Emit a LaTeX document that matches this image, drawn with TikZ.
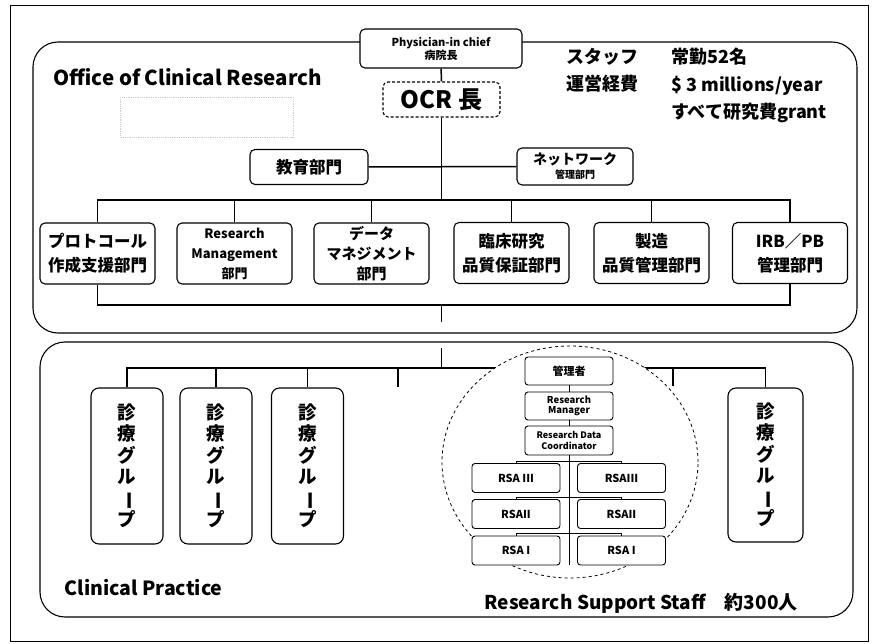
\documentclass[tikz,border=0pt]{standalone}
\usepackage{fontspec}
\setmainfont{Noto Sans CJK JP}
\usetikzlibrary{positioning}
\tikzset{
  unit/.style={rectangle, rounded corners=5pt, draw=black, line width=1.1pt, fill=white, align=center,
               inner sep=1pt, font=\bfseries\fontsize{16.5}{24}\selectfont},
  dept/.style={unit, minimum width=115pt, minimum height=61pt},
  grp/.style={unit, rounded corners=8pt, minimum width=72pt, minimum height=156pt,
              font=\bfseries\fontsize{18.5}{21.5}\selectfont},
  rsa/.style={unit, rounded corners=3pt, line width=0.9pt, minimum width=88pt, minimum height=28pt,
              font=\bfseries\fontsize{11}{12}\selectfont},
  conn/.style={line width=1.5pt},
  thin conn/.style={line width=1pt},
  frame/.style={rounded corners=25pt, line width=1.1pt},
}
\newcommand{\vbar}{\rotatebox[origin=c]{-90}{ー}}
\newcommand{\shinryo}{診\\療\\グ\\ル\\\vbar\\プ}

\begin{document}
\begin{tikzpicture}[x=1pt, y=-1pt]
\useasboundingbox (0,0) rectangle (873,644);
\draw[line width=0.8pt] (10,5) rectangle (868,641);
% Office of Clinical Research
\draw[frame] (33,42) rectangle (857,333);
\node[anchor=west, font=\bfseries\fontsize{20.5}{22}\selectfont] (ocrtitle) at (50,77) {Office of Clinical Research};
\draw[gray!40, densely dotted, line width=0.8pt] (120,97) rectangle (293,137);
\node[unit, minimum width=162pt, minimum height=39pt, font=\bfseries\fontsize{11}{13}\selectfont] (chief) at (441,48.5) {Physician-in chief\\病院長};
\node[unit, densely dashed, minimum width=117pt, minimum height=35pt, font=\bfseries\fontsize{24}{26}\selectfont] (head) at (441.5,99.5) {OCR 長};
\node[anchor=north west, align=left, inner sep=0pt, font=\bfseries\fontsize{18}{27.5}\selectfont] (staffkey) at (566,48) {スタッフ\\運営経費};
\node[anchor=north west, align=left, inner sep=0pt, font=\bfseries\fontsize{18}{27.5}\selectfont] (staffval) at (671,48) {常勤52名\\\$ 3 millions/year\\すべて研究費grant};
\node[unit, minimum width=118pt, minimum height=35pt] (edu) at (309,167) {教育部門};
\node[unit, minimum width=116pt, minimum height=37pt, font=\bfseries\fontsize{14}{14}\selectfont] (net) at (575,166.5) {ネットワーク\\{\fontsize{10}{11}\selectfont 管理部門}};
\node[dept] (proto) at (97.5,253.5) {プロトコール\\作成支援部門};
\node[dept, font=\bfseries\fontsize{13}{20}\selectfont] (resman) at (234.5,253.5) {Research\\Management\\部門};
\node[dept, font=\bfseries\fontsize{15}{20}\selectfont] (datman) at (371.5,253.5) {データ\\マネジメント\\部門};
\node[dept] (qualas) at (511.5,253) {臨床研究\\品質保証部門};
\node[dept] (manuf) at (651.5,253) {製造\\品質管理部門};
\node[dept] (irb) at (790,253) {IRB／PB\\管理部門};
\coordinate (topbus) at (441.5,200);
\coordinate (botbus) at (441.5,305);
\coordinate (ocrout) at (441.5,322);
\draw[conn] (chief) -- (head);
\draw[conn] (head) -- (topbus);
\draw[conn] (edu) -- (net);
\draw[conn] (proto.north) |- (topbus) -| (irb.north);
\foreach \d in {resman,datman,qualas,manuf} \draw[conn] (\d.north) -- (\d.north |- topbus);
\draw[conn] (proto.south) |- (botbus) -| (irb.south);
\draw[conn] (botbus) -- (ocrout);
% Clinical Practice
\draw[frame] (40,342) rectangle (853,617);
\coordinate (cpin) at (441.5,348);
\coordinate (lowbus) at (441.5,368);
\coordinate (stubA) at (398,387);
\coordinate (stubB) at (673,386);
\foreach \n/\x in {1/127,2/216,3/307.5} \node[grp] (grp\n) at (\x,466) {\shinryo};
\node[grp, minimum width=75pt, minimum height=154pt] (grp4) at (765.5,465) {\shinryo};
\draw[conn] (cpin) -- (lowbus);
\draw[conn] (grp1.north) |- (lowbus) -| (grp4.north);
\foreach \n in {2,3} \draw[conn] (grp\n.north) -- (grp\n.north |- lowbus);
\draw[conn] (stubA |- lowbus) -- (stubA);
\draw[conn] (stubB |- lowbus) -- (stubB);
\draw[dashed, line width=0.8pt, fill=white] (570,462) ellipse [x radius=128pt, y radius=116pt];
\node[rsa] (admin) at (569,371) {管理者};
\node[rsa, font=\bfseries\fontsize{9.5}{10.5}\selectfont] (rmgr) at (569,406) {Research\\Manager};
\node[rsa, minimum height=29pt, font=\bfseries\fontsize{9}{10.5}\selectfont] (rdc) at (569,440.5) {Research Data\\Coordinator};
\foreach \r/\y/\tl/\tr in {3/478/RSA III/RSAIII, 2/514/RSAII/RSAII, 1/550.5/RSA I/RSA I} {
  \node[rsa, minimum height=29pt] (rsaL\r) at (516,\y) {\tl};
  \node[rsa, minimum height=29pt] (rsaR\r) at (621.5,\y) {\tr};
  \draw[thin conn] (rsaL\r.north) -- ++(0,-2) -| (rsaR\r.north);
}
\draw[thin conn] (admin) -- (rmgr);
\draw[thin conn] (rmgr) -- (rdc);
\draw[thin conn] (rdc.south) -- (rdc.south |- rsaL1.south);
\node[anchor=west, font=\bfseries\fontsize{19.5}{21}\selectfont] (cptitle) at (61,588) {Clinical Practice};
\node[anchor=west, font=\bfseries\fontsize{19}{21}\selectfont] (rsstitle) at (481,603) {Research Support Staff　約300人};
\end{tikzpicture}
\end{document}
